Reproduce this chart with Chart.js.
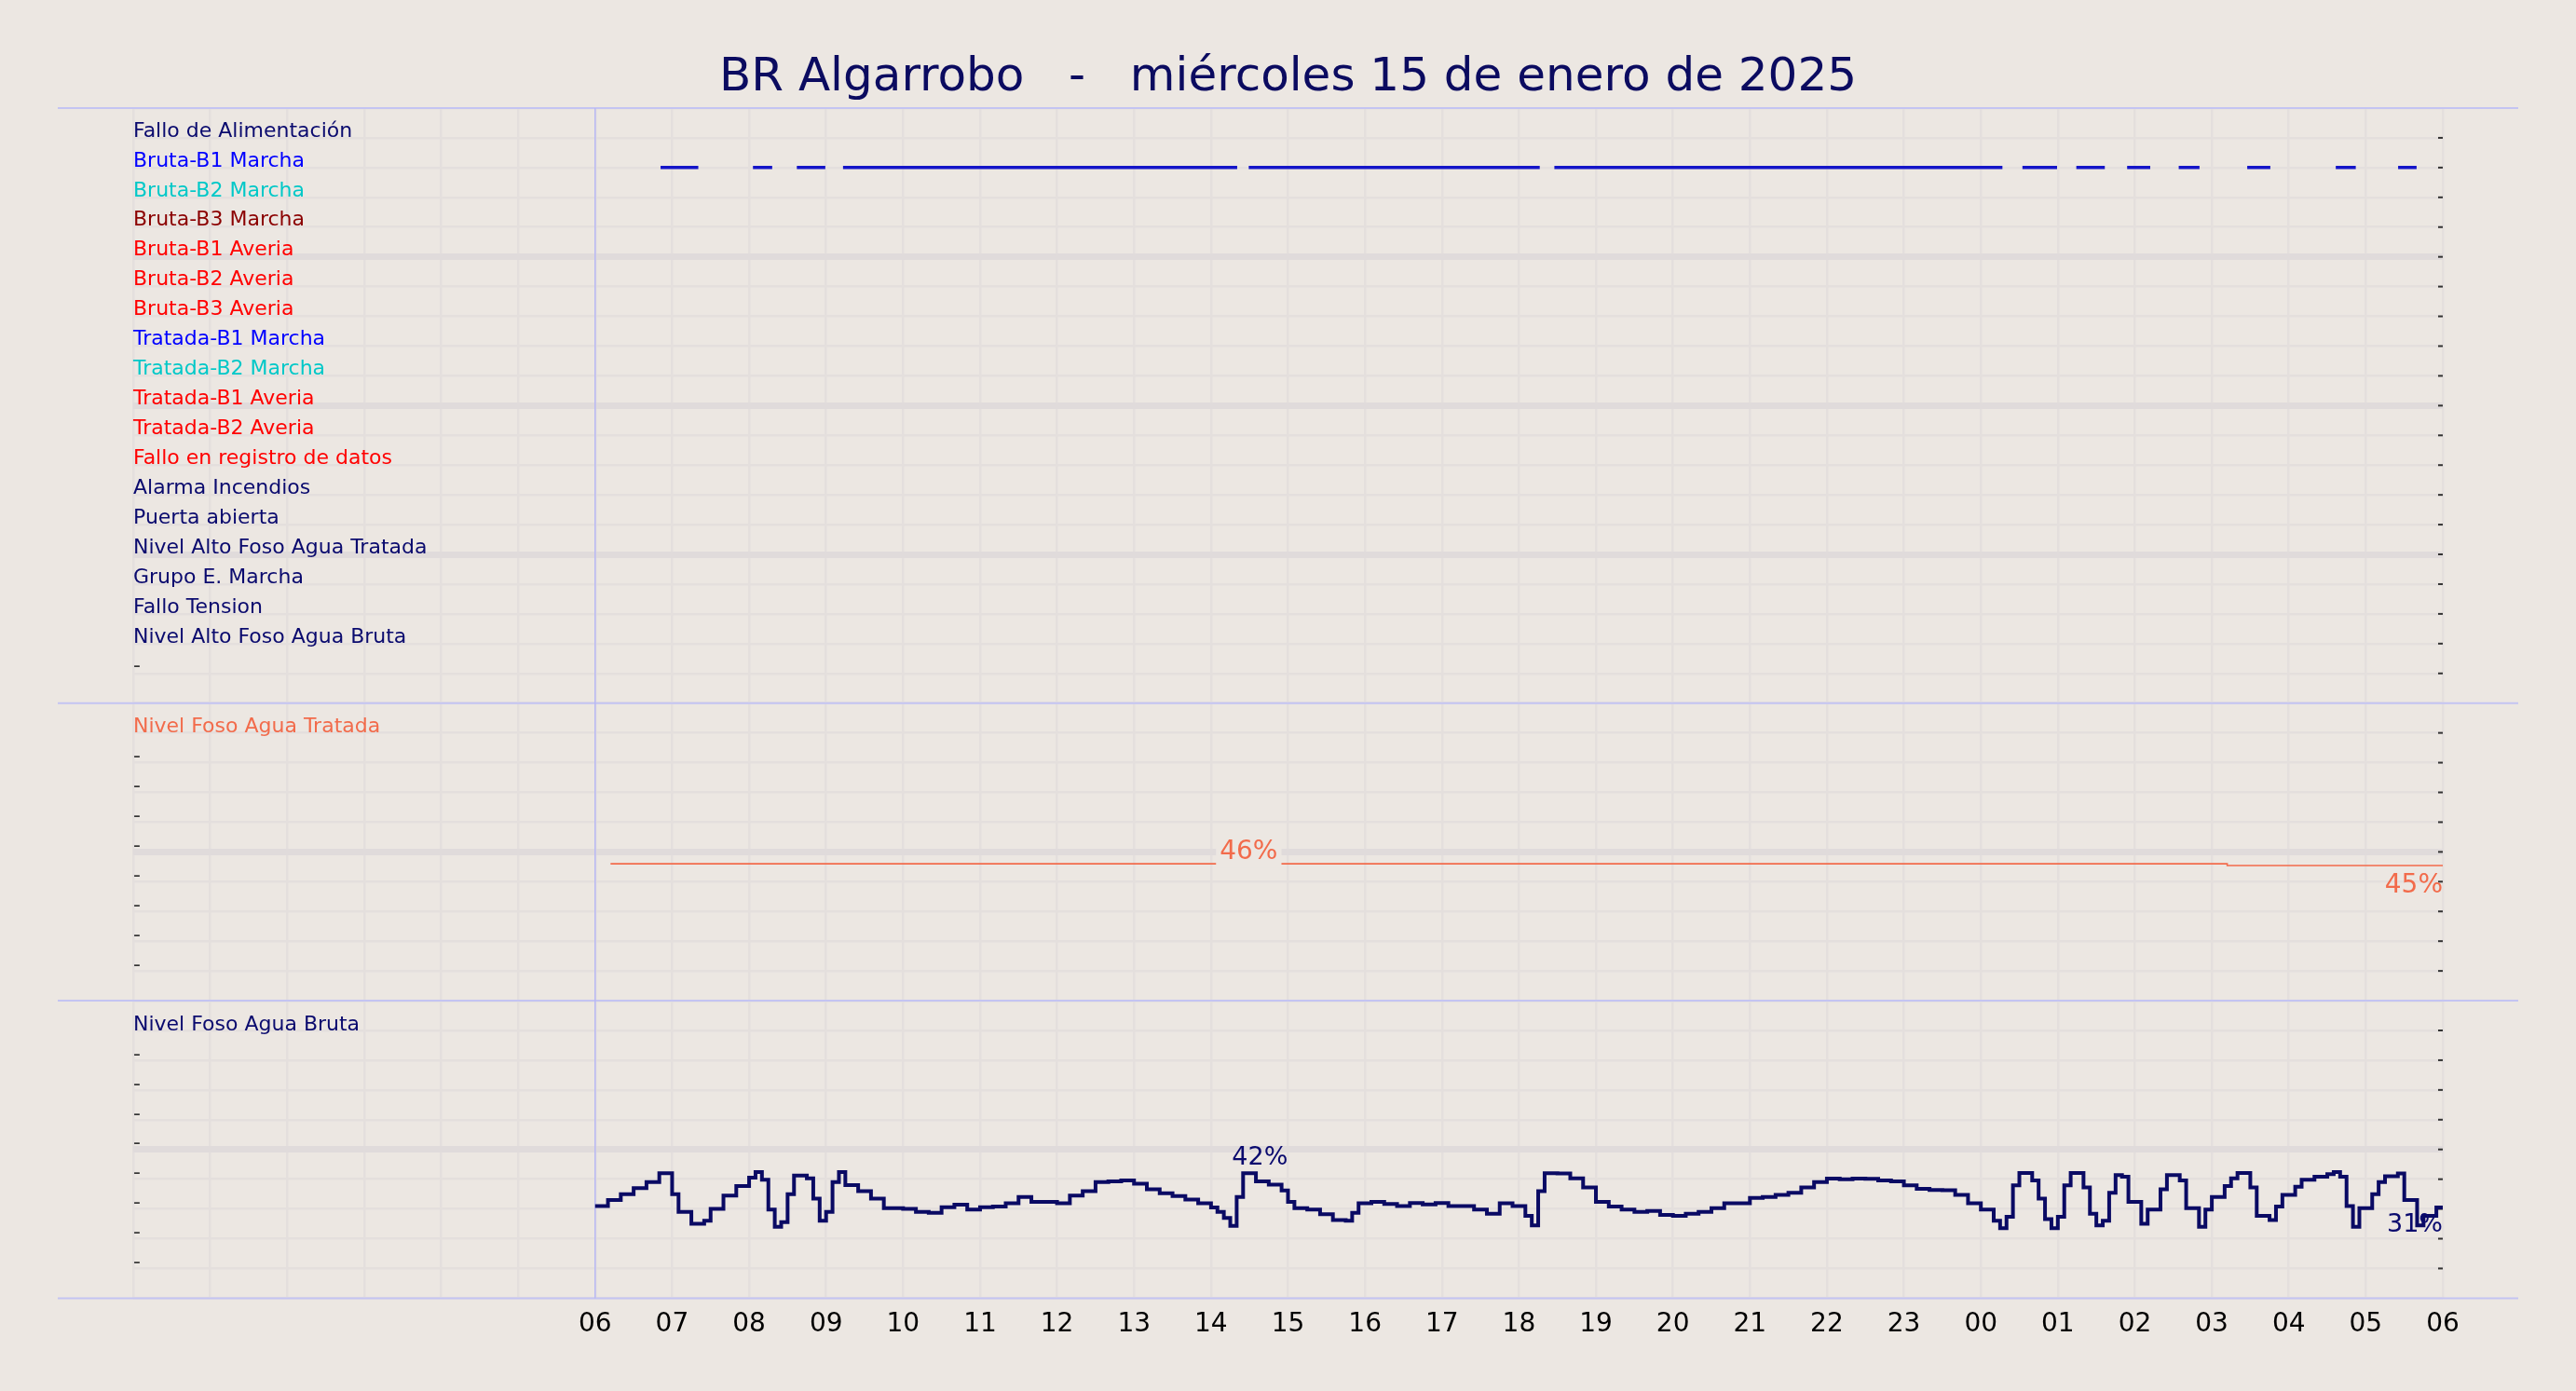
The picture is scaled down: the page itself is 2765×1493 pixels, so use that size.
<!DOCTYPE html>
<html><head><meta charset="utf-8">
<script src="https://cdn.jsdelivr.net/npm/chart.js@4/dist/chart.umd.min.js"></script>
<style>html,body{margin:0;padding:0;background:#ece7e2;}#c{display:block}</style>
</head><body><canvas id="c" width="2765" height="1493"></canvas>
<script>
const title = "BR Algarrobo   -   miércoles 15 de enero de 2025";
const signalNames = ["Fallo de Alimentación","Bruta-B1 Marcha","Bruta-B2 Marcha","Bruta-B3 Marcha","Bruta-B1 Averia","Bruta-B2 Averia","Bruta-B3 Averia","Tratada-B1 Marcha","Tratada-B2 Marcha","Tratada-B1 Averia","Tratada-B2 Averia","Fallo en registro de datos","Alarma Incendios","Puerta abierta","Nivel Alto Foso Agua Tratada","Grupo E. Marcha","Fallo Tension","Nivel Alto Foso Agua Bruta"];
const signalColors = ["#0a0a6e","#0000ff","#00c8c8","#8b0000","#ff0000","#ff0000","#ff0000","#0000ff","#00c8c8","#ff0000","#ff0000","#ff0000","#0a0a6e","#0a0a6e","#0a0a6e","#0a0a6e","#0a0a6e","#0a0a6e"];
// Bruta-B1 Marcha run intervals (hours from 00:00 of 15 Jan; 24+ = next day)
const b1Start = [6.85,8.05,8.62,9.22,14.49,18.46,24.54,25.24,25.90,26.57,27.46,28.61,29.42];
const b1End   = [7.34,8.30,8.99,14.34,18.27,24.28,24.99,25.61,26.20,26.84,27.76,28.87,29.66];
// Nivel Foso Agua Tratada
const tratTimes = [6.2,27.2,30];
const tratVals  = [46,45.4,45.4];
// Nivel Foso Agua Bruta (time "HH:MM", value %)
const brutaTimes = ["06:00","06:10","06:20","06:30","06:40","06:50","07:00","07:05","07:15","07:25","07:30","07:40","07:50","08:00","08:05","08:10","08:15","08:20","08:25","08:30","08:35","08:45","08:50","08:55","09:00","09:05","09:10","09:15","09:25","09:35","09:45","10:00","10:10","10:20","10:30","10:40","10:50","11:00","11:10","11:20","11:30","11:40","11:50","12:00","12:10","12:20","12:30","12:40","12:50","13:00","13:10","13:20","13:30","13:40","13:50","14:00","14:05","14:10","14:15","14:20","14:25","14:35","14:45","14:55","15:00","15:05","15:15","15:25","15:35","15:45","15:50","15:55","16:05","16:15","16:25","16:35","16:45","16:55","17:05","17:15","17:25","17:35","17:45","17:55","18:05","18:10","18:15","18:20","18:30","18:40","18:50","19:00","19:10","19:20","19:30","19:40","19:50","20:00","20:10","20:20","20:30","20:40","20:50","21:00","21:10","21:20","21:30","21:40","21:50","22:00","22:10","22:20","22:30","22:40","22:50","23:00","23:10","23:20","23:30","23:40","23:50","00:00","00:10","00:15","00:20","00:25","00:30","00:40","00:45","00:50","00:55","01:00","01:05","01:10","01:20","01:25","01:30","01:35","01:40","01:45","01:50","01:55","02:05","02:10","02:20","02:25","02:35","02:40","02:50","02:55","03:00","03:10","03:15","03:20","03:30","03:35","03:45","03:50","03:55","04:05","04:10","04:20","04:30","04:35","04:40","04:45","04:50","04:55","05:05","05:10","05:15","05:25","05:30","05:40","05:45","05:55"];
const brutaVals = [31,33,35,37,39,42,35,29,25,26,30,34.5,37.7,40.5,42.4,39.8,29.8,24,25.6,35,41.2,40.3,33.5,26,29,39,42.4,38,36,33.5,30.3,30,29,28.7,30.6,31.4,29.8,30.6,30.8,31.9,34,32.4,32.4,31.9,34.5,36,39,39.3,39.6,38.5,36.6,35.3,34.3,33.2,31.9,30.5,29,27,24.3,34,42,39.3,38.2,36.2,32.4,30.3,29.8,28.2,26.3,26,28.7,31.9,32.4,31.7,31,32,31.5,32,31,31,29.8,28.4,31.9,31,27.7,24.5,36,42,41.9,40.3,37.2,32.4,30.8,29.8,29,29.3,28,27.7,28.4,29,30.3,31.9,31.9,33.7,34,34.7,35.4,37.2,39,40.2,40,40.2,40.1,39.6,39.3,37.9,36.8,36.4,36.3,34.7,31.9,29.8,26,23.5,27.4,37.9,42.1,39.6,33.5,26.6,23.5,27.4,37.9,42.1,37.2,28.4,24.5,26,35.4,41.4,40.8,32.4,25,29.8,36.6,41.4,39.6,30.3,24,29.8,34,37.7,40.3,42.1,37.2,27.7,26.3,30.8,34.7,37.5,39.8,40.8,41.7,42.4,40.8,31,24,30.3,35,39,41,41.9,33,24.5,27.7,30.5];
const xLabelsFrom = 6;

function toH(s){const [h,m]=s.split(':').map(Number);let v=h+m/60;if(h<6)v+=24;return v;}
const brutaData = brutaTimes.map((t,i)=>({x:toH(t),y:brutaVals[i]}));
brutaData.push({x:30,y:brutaVals[brutaVals.length-1]});
const b1Data=[];b1Start.forEach((s,i)=>{b1Data.push({x:s,y:2},{x:b1End[i],y:2},{x:b1End[i],y:NaN});});
const tratData = tratTimes.map((t,i)=>({x:t,y:tratVals[i]}));

const FONT="DejaVu Sans";
const BG="#ece7e2";
function gridCol(thick){return thick?"#e0dbdb":"#e4dfdd";}

const deco={id:'deco',
 beforeDatasetsDraw(chart){
  const c=chart.ctx,a=chart.chartArea;
  c.save();
  c.strokeStyle="#c4c4f2";c.lineWidth=2;
  [chart.scales.yS.top,chart.scales.yT.top,chart.scales.yB.top,chart.scales.yB.bottom].forEach(y=>{c.beginPath();c.moveTo(62,y);c.lineTo(2703,y);c.stroke();});
  const x6=chart.scales.x.getPixelForValue(6);
  c.strokeStyle="#b8b8f4";c.lineWidth=1.5;c.beginPath();c.moveTo(x6,a.top);c.lineTo(x6,a.bottom);c.stroke();
  c.strokeStyle="#333";c.lineWidth=2;
  ['yS','yT','yB'].forEach(id=>{const s=chart.scales[id];s.ticks.forEach(t=>{const y=s.getPixelForValue(t.value);if(Math.abs(y-s.top)<3||Math.abs(y-s.bottom)<3)return;c.beginPath();c.moveTo(a.right-5,y);c.lineTo(a.right,y);c.stroke();});});
  c.restore();
 },
 afterDatasetsDraw(chart){
  const c=chart.ctx,x=chart.scales.x;
  c.save();
  const yT=chart.scales.yT;
  c.font="28px "+FONT;c.textBaseline="middle";
  let t="46%",px=x.getPixelForValue(14.49),py=yT.getPixelForValue(tratVals[0])-12;
  const w=c.measureText(t).width;
  c.fillStyle=BG;c.fillRect(px-w/2-4,py-16,w+8,32);
  c.fillStyle="#f26b4b";c.textAlign="center";c.fillText(t,px,py);
  c.textAlign="right";c.fillText("45%",x.getPixelForValue(30),yT.getPixelForValue(tratVals[tratVals.length-1])+22);
  const yB=chart.scales.yB;
  c.font="27px "+FONT;c.fillStyle="#0a0a6e";c.textAlign="center";
  c.fillText(Math.round(brutaVals[60])+"%",x.getPixelForValue(toH(brutaTimes[60]))+18,yB.getPixelForValue(42)-16);
  c.textAlign="right";c.fillText("31%",x.getPixelForValue(30),yB.getPixelForValue(24.5));
  c.restore();
 }};

function panelGrid(isThick){return {color:ctx=>gridCol(ctx.tick&&isThick(ctx.tick.value)),lineWidth:ctx=>(ctx.tick&&isThick(ctx.tick.value))?7:2.5,drawTicks:false};}

new Chart(document.getElementById('c'),{
 type:'line',
 data:{datasets:[
  {data:b1Data,yAxisID:'yS',borderColor:'#1414c8',borderWidth:3.5,pointRadius:0,spanGaps:false,fill:false},
  {data:tratData,yAxisID:'yT',borderColor:'#f26b4b',borderWidth:1.6,pointRadius:0,stepped:true,fill:false},
  {data:brutaData,yAxisID:'yB',borderColor:'#0a0a64',borderWidth:4,pointRadius:0,stepped:true,fill:false}
 ]},
 options:{
  responsive:false,animation:false,devicePixelRatio:1,
  layout:{padding:{left:143,right:143,top:0,bottom:42}},
  plugins:{legend:{display:false},tooltip:{enabled:false},
   title:{display:true,text:title,color:'#0b0b60',font:{family:FONT,size:50,weight:'normal'},padding:{top:54,bottom:2}}},
  scales:{
   x:{type:'linear',min:0,max:30,border:{display:false},
      grid:{color:'#e4dfdd',lineWidth:2.5,drawTicks:false},
      ticks:{stepSize:1,autoSkip:false,maxRotation:0,padding:12,color:'#000',font:{family:FONT,size:28},
        callback:v=>v>=xLabelsFrom?String(v%24).padStart(2,'0'):''}},
   yS:{type:'linear',position:'left',stack:'p',stackWeight:2,weight:3,reverse:true,min:0,max:20,offset:false,border:{display:false},
      grid:panelGrid(v=>v===5||v===10||v===15),
      ticks:{stepSize:1,mirror:true,padding:0,labelOffset:-7,autoSkip:false,font:{family:FONT,size:22},
        color:ctx=>{const v=ctx.tick.value;return v>=1&&v<=18?signalColors[v-1]:'#333';},
        callback:v=>v>=1&&v<=18?signalNames[v-1]:(v===19?'-':'')}},
   yT:{type:'linear',position:'left',stack:'p',stackWeight:1,weight:2,min:0,max:100,offset:false,border:{display:false},
      grid:panelGrid(v=>v===50),
      ticks:{stepSize:10,mirror:true,padding:0,labelOffset:-6,autoSkip:false,font:{family:FONT,size:22},
        color:ctx=>ctx.tick.value===90?'#f26b4b':'#333',
        callback:v=>v===90?'Nivel Foso Agua Tratada':(v>0&&v<90?'-':'')}},
   yB:{type:'linear',position:'left',stack:'p',stackWeight:1,weight:1,min:0,max:100,offset:false,border:{display:false},
      grid:panelGrid(v=>v===50),
      ticks:{stepSize:10,mirror:true,padding:0,labelOffset:-6,autoSkip:false,font:{family:FONT,size:22},
        color:ctx=>ctx.tick.value===90?'#0a0a6e':'#333',
        callback:v=>v===90?'Nivel Foso Agua Bruta':(v>0&&v<90?'-':'')}}
  }
 },
 plugins:[deco]
});
</script></body></html>
